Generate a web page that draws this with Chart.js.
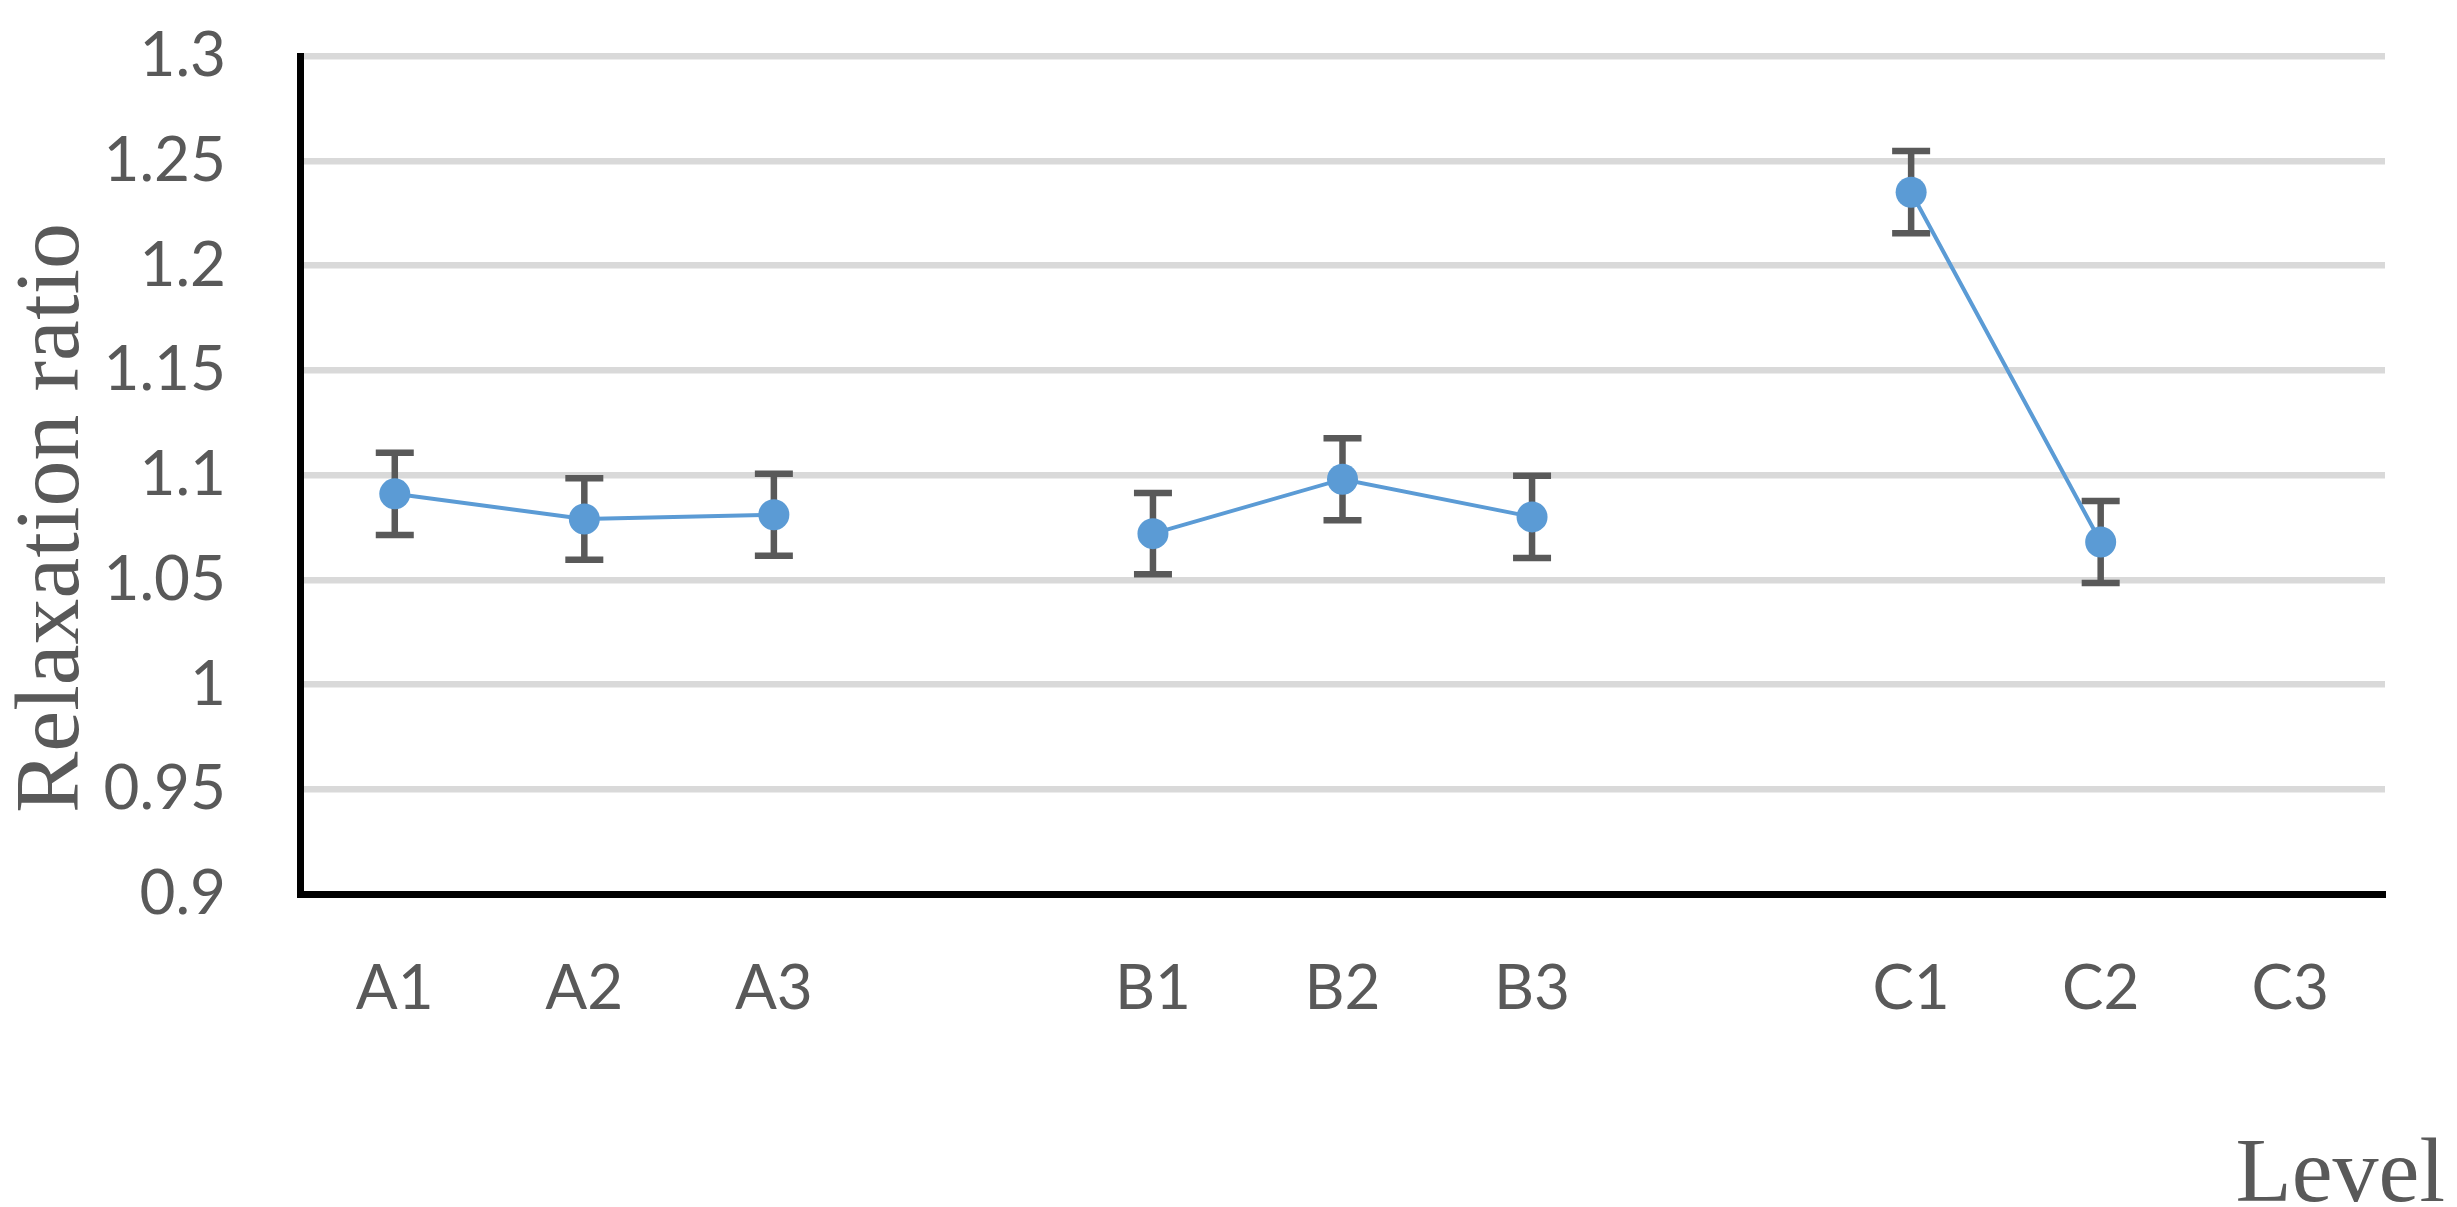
<!DOCTYPE html>
<html>
<head>
<meta charset="utf-8">
<script src="https://cdn.jsdelivr.net/npm/chart.js@4.4.1/dist/chart.umd.min.js"></script>
<style>
  html, body { margin: 0; padding: 0; background: #fff; }
  canvas { display: block; }
</style>
</head>
<body>
<canvas id="chart" width="2457" height="1207"></canvas>
<script>
// levels, with blank slots between the factor groups
const levels = ['A1', 'A2', 'A3', '', 'B1', 'B2', 'B3', '', 'C1', 'C2', 'C3'];
const ratio = [1.091, 1.079, 1.081, null, 1.072, 1.098, 1.080, null, 1.235, 1.068, null];
const ratioErr = [0.0196, 0.0195, 0.0196, null, 0.0194, 0.0196, 0.0196, null, 0.0196, 0.0196, null];
const yMin = 0.9, yMax = 1.3, yStep = 0.05;

const tickColor = '#595959';
const lineBlue = '#5B9BD5';

// error bars under the line and markers
const errorBars = {
  id: 'errorBars',
  beforeDatasetsDraw(chart) {
    const ctx = chart.ctx;
    const x = chart.scales.x, y = chart.scales.y;
    ctx.save();
    ctx.strokeStyle = tickColor;
    ctx.lineWidth = 6.5;
    ratio.forEach(function(v, i) {
      if (v == null) return;
      const px = x.getPixelForValue(i);
      const top = y.getPixelForValue(v + ratioErr[i]);
      const bot = y.getPixelForValue(v - ratioErr[i]);
      ctx.beginPath();
      ctx.moveTo(px, top); ctx.lineTo(px, bot);
      ctx.moveTo(px - 19, top); ctx.lineTo(px + 19, top);
      ctx.moveTo(px - 19, bot); ctx.lineTo(px + 19, bot);
      ctx.stroke();
    });
    ctx.restore();
  }
};

// axis titles (serif, like the original)
const axisTitles = {
  id: 'axisTitles',
  afterDraw(chart) {
    const ctx = chart.ctx;
    ctx.save();
    ctx.fillStyle = tickColor;
    ctx.font = '92px "Liberation Serif"';
    ctx.textBaseline = 'alphabetic';
    ctx.save();
    ctx.translate(78, 518);
    ctx.rotate(-Math.PI / 2);
    ctx.textAlign = 'center';
    ctx.fillText('Relaxation ratio', 0, 0);
    ctx.restore();
    ctx.textAlign = 'right';
    ctx.fillText('Level', 2445, 1201);
    ctx.restore();
  }
};

new Chart(document.getElementById('chart').getContext('2d'), {
  type: 'line',
  data: {
    labels: levels,
    datasets: [{
      data: ratio,
      borderColor: lineBlue,
      borderWidth: 4,
      backgroundColor: lineBlue,
      pointBackgroundColor: lineBlue,
      pointBorderWidth: 0,
      pointRadius: 15.5,
      pointHoverRadius: 15.5,
      tension: 0,
      spanGaps: false
    }]
  },
  options: {
    responsive: false,
    animation: false,
    devicePixelRatio: 1,
    layout: { padding: { left: 0, right: 72, top: 56, bottom: 0 } },
    plugins: { legend: { display: false }, tooltip: { enabled: false } },
    scales: {
      x: {
        offset: true,
        grid: { display: false, drawTicks: false },
        border: { display: true, color: '#000', width: 7 },
        ticks: { color: tickColor, font: { family: 'Lato', size: 62 }, padding: 58, autoSkip: false, maxRotation: 0 },
        afterFit: function(scale) {
          scale.height = 313;
          scale.paddingLeft = 0;
          scale.paddingRight = 0;
        }
      },
      y: {
        min: yMin,
        max: yMax,
        grid: {
          drawTicks: false,
          lineWidth: 6.5,
          color: function(c) { return c.tick && c.tick.value <= yMin + 1e-9 ? 'rgba(0,0,0,0)' : '#D9D9D9'; }
        },
        border: { display: true, color: '#000', width: 7 },
        ticks: {
          stepSize: yStep,
          color: tickColor,
          font: { family: 'Lato', size: 62 },
          padding: 74,
          callback: function(v) { return String(Number(v.toFixed(2))); }
        },
        afterFit: function(scale) {
          scale.width = 300;
          scale.paddingTop = 0;
          scale.paddingBottom = 0;
        }
      }
    }
  },
  plugins: [errorBars, axisTitles]
});
</script>
</body>
</html>
